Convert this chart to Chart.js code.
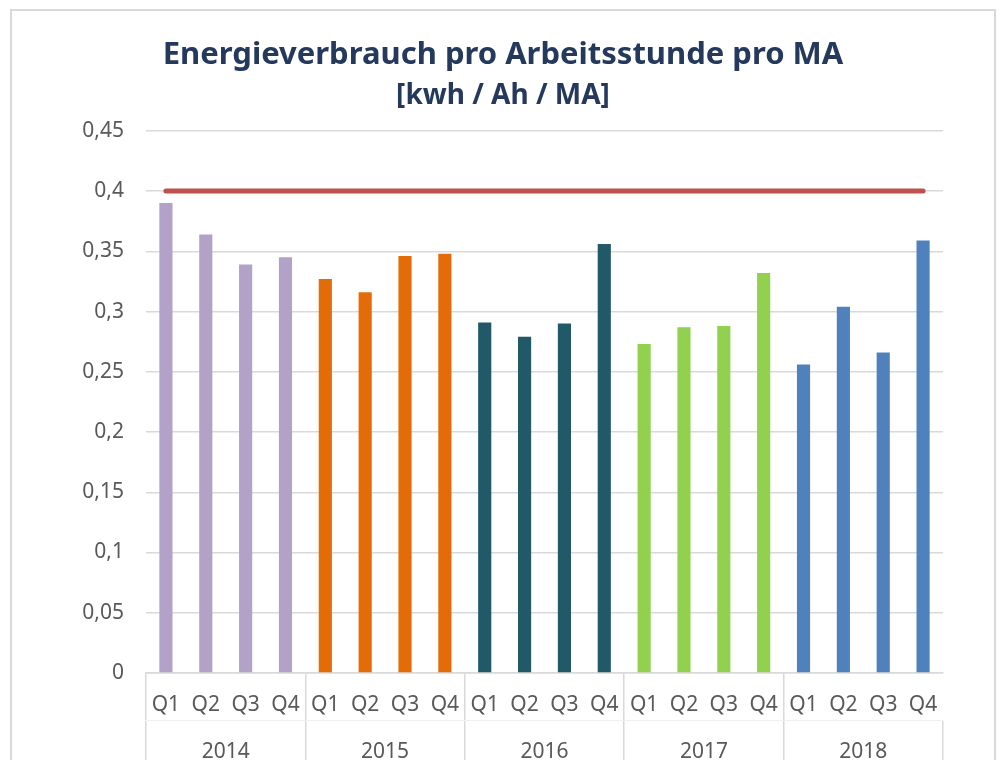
<!DOCTYPE html>
<html lang="de">
<head>
    <meta charset="UTF-8">
    <title>Energieverbrauch pro Arbeitsstunde pro MA</title>
    <script src="https://cdn.jsdelivr.net/npm/chart.js"></script>
    <style>
        html, body {
            margin: 0;
            padding: 0;
            background: #fff;
            overflow: hidden;
        }

        .frame {
            position: absolute;
            left: 10px;
            top: 9px;
            width: 986px;
            height: 800px;
            border: 2px solid #d9d9d9;
            box-sizing: border-box;
        }

        .box {
            position: relative;
            width: 982px;
            height: 790px;
        }
    </style>
</head>
<body>
<div class="frame">
    <div class="box">
        <canvas id="chart"></canvas>
    </div>
</div>
<script>
    // Werte je Quartal
    const years = ['2014', '2015', '2016', '2017', '2018'];
    const quarters = ['Q1', 'Q2', 'Q3', 'Q4'];

    const values2014 = [0.390, 0.364, 0.339, 0.345];
    const values2015 = [0.327, 0.316, 0.346, 0.348];
    const values2016 = [0.291, 0.279, 0.290, 0.356];
    const values2017 = [0.273, 0.287, 0.288, 0.332];
    const values2018 = [0.256, 0.304, 0.266, 0.359];

    const targetValue = 0.4;
    const yTicks = [0, 0.05, 0.1, 0.15, 0.2, 0.25, 0.3, 0.35, 0.4, 0.45];

    const yearColors = ['#b3a2c7', '#e36c09', '#215968', '#92d050', '#4f81bd'];

    const seriesByYear = [values2014, values2015, values2016, values2017, values2018];
    const labels = [];
    const values = [];
    const colors = [];
    seriesByYear.forEach((list, y) => {
        list.forEach((v, q) => {
            labels.push(quarters[q]);
            values.push(v);
            colors.push(yearColors[y]);
        });
    });
    const target = labels.map(() => targetValue);

    const tickFont = { family: "'Noto Sans', 'Open Sans', sans-serif", size: 21 };
    const titleFamily = "'Noto Sans', 'Open Sans', sans-serif";

    new Chart(document.getElementById('chart'), {
        type: 'bar',
        data: {
            labels: labels,
            datasets: [{
                type: 'line',
                data: target,
                borderColor: '#c0504d',
                borderWidth: 5,
                borderCapStyle: 'round',
                pointRadius: 0,
                xAxisID: 'x',
                order: 0
            }, {
                data: values,
                backgroundColor: colors,
                barPercentage: 0.33,
                categoryPercentage: 1,
                xAxisID: 'x',
                order: 1
            }]
        },
        options: {
            responsive: true,
            maintainAspectRatio: false,
            animation: false,
            layout: {
                padding: { left: 0, right: 0, top: 0, bottom: 21 }
            },
            plugins: {
                legend: { display: false },
                tooltip: { enabled: false },
                title: {
                    display: true,
                    text: 'Energieverbrauch pro Arbeitsstunde pro MA',
                    color: '#24395c',
                    font: { family: titleFamily, size: 31, weight: 'bold' },
                    padding: { top: 26, bottom: 0 }
                },
                subtitle: {
                    display: true,
                    text: '[kwh / Ah / MA]',
                    color: '#24395c',
                    font: { family: titleFamily, size: 28, weight: 'bold' },
                    padding: { top: 5, bottom: 18 }
                }
            },
            scales: {
                y: {
                    min: 0,
                    max: 0.45,
                    afterBuildTicks: scale => {
                        scale.ticks = yTicks.map(v => ({ value: v }));
                    },
                    afterFit: scale => {
                        scale.width = 134;
                    },
                    border: { display: false },
                    grid: {
                        color: '#d9d9d9',
                        lineWidth: 1.5,
                        drawTicks: false
                    },
                    ticks: {
                        padding: 22,
                        color: '#595959',
                        font: tickFont,
                        callback: v => Number(v.toFixed(2)).toString().replace('.', ',')
                    }
                },
                // leere Achse rechts als Rand, damit der Titel mittig bleibt
                yRight: {
                    position: 'right',
                    min: 0,
                    max: 0.45,
                    afterFit: scale => {
                        scale.width = 51;
                    },
                    border: { display: false },
                    grid: { display: false, drawOnChartArea: false },
                    ticks: { display: false }
                },
                x: {
                    position: 'bottom',
                    afterFit: scale => {
                        scale.height = 47;
                    },
                    border: { display: true, color: '#d9d9d9', width: 1.5 },
                    grid: {
                        drawOnChartArea: false,
                        drawTicks: true,
                        tickLength: 47,
                        lineWidth: 1.5,
                        color: ctx => (ctx.index % 4 === 0 ? '#d9d9d9' : 'rgba(0,0,0,0)')
                    },
                    ticks: {
                        padding: -28,
                        autoSkip: false,
                        maxRotation: 0,
                        color: '#595959',
                        font: tickFont
                    }
                },
                x2: {
                    type: 'category',
                    position: 'bottom',
                    labels: years,
                    offset: true,
                    afterFit: scale => {
                        scale.height = 60;
                    },
                    border: { display: true, color: '#f0f0f0', width: 1 },
                    grid: {
                        offset: true,
                        drawOnChartArea: false,
                        drawTicks: true,
                        tickLength: 100,
                        lineWidth: 1.5,
                        color: '#d9d9d9'
                    },
                    ticks: {
                        padding: -81,
                        autoSkip: false,
                        maxRotation: 0,
                        color: '#595959',
                        font: tickFont
                    }
                }
            }
        }
    });
</script>
</body>
</html>
